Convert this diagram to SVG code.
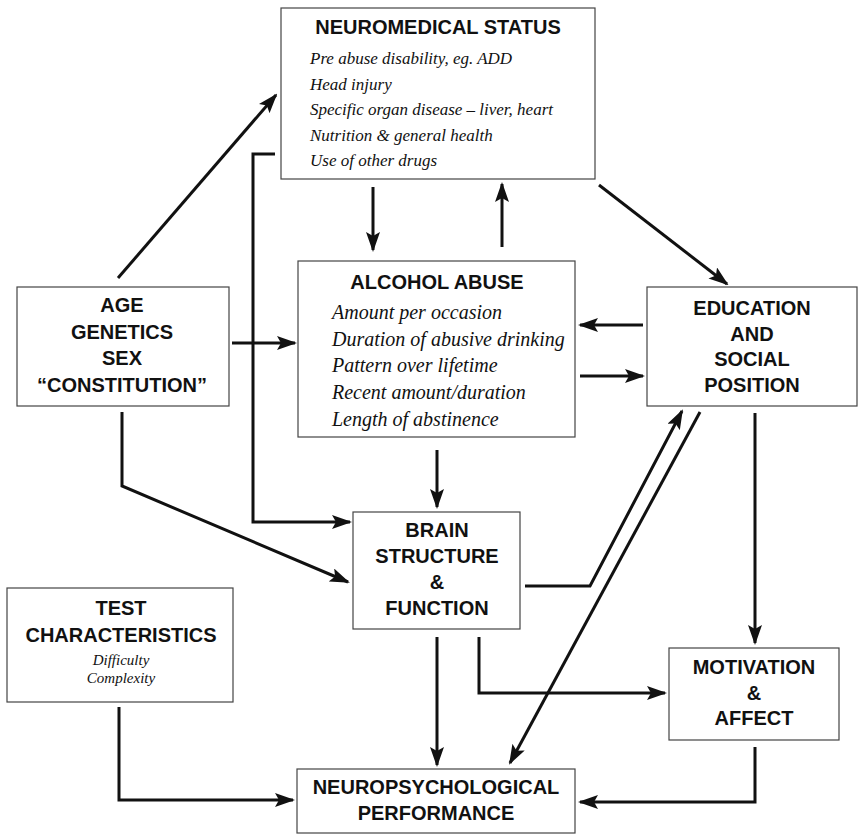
<svg xmlns="http://www.w3.org/2000/svg" width="863" height="837" viewBox="0 0 863 837">
<style>
.box{fill:#fff;stroke:#444;stroke-width:1.2}
.t{font-family:"Liberation Sans",Arial,sans-serif;font-weight:bold;font-size:20px;fill:#111;text-anchor:middle}
.i{font-family:"Liberation Serif","Times New Roman",serif;font-style:italic;font-size:17px;fill:#111}
.i2{font-size:20px}
.ic{text-anchor:middle;font-size:15px}
.c{fill:none;stroke:#111;stroke-width:3;stroke-linejoin:miter}
.a{marker-end:url(#ah)}
</style>
<defs>
<marker id="ah" markerUnits="userSpaceOnUse" markerWidth="20" markerHeight="14" viewBox="0 0 20 14" refX="18" refY="7" orient="auto">
<path d="M0,0 L20,7 L0,14 L4,7 z" fill="#111"/>
</marker>
</defs>
<rect width="863" height="837" fill="#fff"/>
<g id="connectors">
<line class="c a" x1="118" y1="278" x2="276" y2="95"/>
<polyline class="c a" points="275,154 253,154 253,522 350,522"/>
<line class="c a" x1="232" y1="343" x2="295" y2="343"/>
<line class="c a" x1="373" y1="187" x2="373" y2="250"/>
<line class="c a" x1="502" y1="247" x2="502" y2="184"/>
<line class="c a" x1="599" y1="185" x2="727" y2="284"/>
<line class="c a" x1="643" y1="325" x2="580" y2="325"/>
<line class="c a" x1="580" y1="376" x2="643" y2="376"/>
<line class="c a" x1="437" y1="450" x2="437" y2="507"/>
<polyline class="c a" points="122,412 122,486 348,582"/>
<polyline class="c a" points="525,586 590,586 682,411"/>
<line class="c a" x1="700" y1="412" x2="510" y2="763"/>
<line class="c a" x1="755" y1="413" x2="755" y2="643"/>
<line class="c a" x1="437" y1="637" x2="437" y2="765"/>
<polyline class="c a" points="479,637 479,693 665,693"/>
<polyline class="c a" points="755,747 755,802 580,802"/>
<polyline class="c a" points="119,707 119,800 293,800"/>
</g>
<g id="neuromedical">
<rect class="box" x="281" y="8" width="314" height="171"/>
<text class="t" x="438" y="34">NEUROMEDICAL STATUS</text>
<text class="i" x="310" y="64">Pre abuse disability, eg. ADD</text>
<text class="i" x="310" y="90">Head injury</text>
<text class="i" x="310" y="115">Specific organ disease – liver, heart</text>
<text class="i" x="310" y="141">Nutrition &amp; general health</text>
<text class="i" x="310" y="166">Use of other drugs</text>
</g>
<g id="age">
<rect class="box" x="17" y="287" width="212" height="119"/>
<text class="t" x="122" y="312">AGE</text>
<text class="t" x="122" y="339">GENETICS</text>
<text class="t" x="122" y="365">SEX</text>
<text class="t" x="122" y="392">“CONSTITUTION”</text>
</g>
<g id="alcohol">
<rect class="box" x="298" y="261" width="277" height="176"/>
<text class="t" x="437" y="289">ALCOHOL ABUSE</text>
<text class="i i2" x="332" y="319">Amount per occasion</text>
<text class="i i2" x="332" y="346">Duration of abusive drinking</text>
<text class="i i2" x="332" y="372">Pattern over lifetime</text>
<text class="i i2" x="332" y="399">Recent amount/duration</text>
<text class="i i2" x="332" y="426">Length of abstinence</text>
</g>
<g id="education">
<rect class="box" x="647" y="287" width="210" height="119"/>
<text class="t" x="752" y="315">EDUCATION</text>
<text class="t" x="752" y="341">AND</text>
<text class="t" x="752" y="366">SOCIAL</text>
<text class="t" x="752" y="392">POSITION</text>
</g>
<g id="brain">
<rect class="box" x="353" y="512" width="167" height="117"/>
<text class="t" x="437" y="537">BRAIN</text>
<text class="t" x="437" y="563">STRUCTURE</text>
<text class="t" x="437" y="589">&amp;</text>
<text class="t" x="437" y="615">FUNCTION</text>
</g>
<g id="test">
<rect class="box" x="7" y="588" width="226" height="114"/>
<text class="t" x="121" y="615">TEST</text>
<text class="t" x="121" y="642">CHARACTERISTICS</text>
<text class="i ic" x="121" y="665">Difficulty</text>
<text class="i ic" x="121" y="683">Complexity</text>
</g>
<g id="motivation">
<rect class="box" x="669" y="648" width="170" height="92"/>
<text class="t" x="754" y="674">MOTIVATION</text>
<text class="t" x="754" y="700">&amp;</text>
<text class="t" x="754" y="725">AFFECT</text>
</g>
<g id="neuropsych">
<rect class="box" x="297" y="769" width="278" height="64"/>
<text class="t" x="436" y="794">NEUROPSYCHOLOGICAL</text>
<text class="t" x="436" y="820">PERFORMANCE</text>
</g>
</svg>
